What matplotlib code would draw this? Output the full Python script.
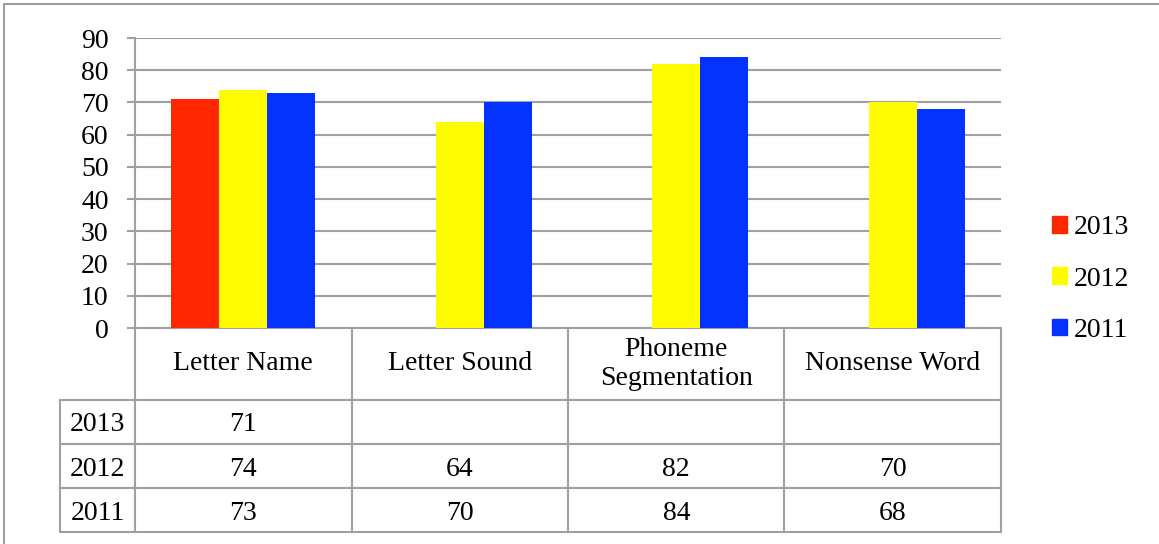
import matplotlib.pyplot as plt
import matplotlib.patches as mpatches
import numpy as np

categories = ["Letter Name", "Letter Sound", "Phoneme\nSegmentation", "Nonsense Word"]
years = ["2013", "2012", "2011"]
vals_2013 = [71, None, None, None]
vals_2012 = [74, 64, 82, 70]
vals_2011 = [73, 70, 84, 68]
colors = ["#FF2600", "#FFFB00", "#0433FF"]
grid_col = "#A0A0A0"

plt.rcParams['font.family'] = ['Liberation Serif', 'DejaVu Serif']

W, H = 1159, 544
fig = plt.figure(figsize=(W / 100, H / 100), dpi=100)

# axes in pixel terms: x 135..1001, y 38..328
ax_w, ax_h = 866, 290
ax = fig.add_axes([135 / W, 1 - 328 / H, ax_w / W, ax_h / H])

series = [vals_2013, vals_2012, vals_2011]
x = np.arange(len(categories))
bw = 0.222
for k, (vals, c) in enumerate(zip(series, colors)):
    xs = [xi + (k - 1) * bw for xi, v in zip(x, vals) if v is not None]
    ys = [v for v in vals if v is not None]
    ax.bar(xs, ys, width=bw, color=c, zorder=3)

ax.set_xlim(-0.5, len(categories) - 0.5)
ax.set_ylim(0, 90)
ax.set_yticks(np.arange(0, 91, 10))
ax.yaxis.grid(True, color=grid_col, linewidth=1.5, zorder=0)
ax.set_xticks([])
for s in ["top", "right", "bottom"]:
    ax.spines[s].set_visible(False)
ax.spines["left"].set_color(grid_col)
ax.spines["left"].set_linewidth(1.5)
ax.tick_params(axis="y", length=6, width=1.5, color=grid_col, labelsize=20, pad=13)

# data table under the axes (sizes in axes fractions)
cell_text = []
for vals in series:
    cell_text.append(["" if v is None else str(v) for v in vals])
tbl = ax.table(cellText=cell_text, rowLabels=years, colLabels=categories,
               cellLoc="center", rowLoc="center", loc="bottom")
tbl.auto_set_font_size(False)
# fixed width for the row-label column instead of the automatic one
tbl._autoColumns = [c for c in tbl._autoColumns if c != -1]
for (r, c), cell in tbl.get_celld().items():
    cell.set_edgecolor(grid_col)
    cell.set_linewidth(1.5)
    cell.get_text().set_fontsize(20)
    if r > 0:
        cell.get_text().set_va("center_baseline")
    cell.set_width(75 / ax_w if c == -1 else 1 / len(categories))
    cell.set_height((72 if r == 0 else 44) / ax_h)

# legend
handles = [mpatches.Patch(color=c, label=y) for c, y in zip(colors, years)]
fig.legend(handles=handles, loc="center left", bbox_to_anchor=(1027 / W, 1 - 279 / H),
           frameon=False, fontsize=20, handlelength=0.55, handleheight=0.55,
           handletextpad=0.25, labelspacing=0.95)

# outer frame (top and left edges)
fig.add_artist(plt.Line2D([4 / W, 1], [1 - 4 / H, 1 - 4 / H], color=grid_col, linewidth=1.5))
fig.add_artist(plt.Line2D([4 / W, 4 / W], [0, 1 - 4 / H], color=grid_col, linewidth=1.5))

fig.savefig("out.png", dpi=100)
